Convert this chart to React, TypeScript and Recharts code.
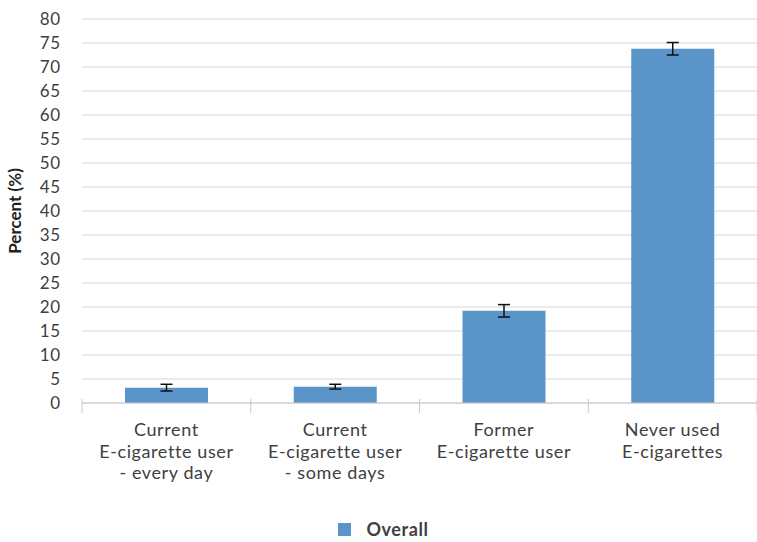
import { BarChart, Bar, XAxis, YAxis, CartesianGrid, Legend, ErrorBar } from 'recharts';

// Share of respondents by e-cigarette use status
const categories = [
  'Current\nE-cigarette user\n- every day',
  'Current\nE-cigarette user\n- some days',
  'Former\nE-cigarette user',
  'Never used\nE-cigarettes',
];
const overall = [3.2, 3.4, 19.2, 73.8];
const overallErr = [0.7, 0.5, 1.3, 1.3];
const yTicks = [0, 5, 10, 15, 20, 25, 30, 35, 40, 45, 50, 55, 60, 65, 70, 75, 80];

const data = categories.map((name, i) => ({ name, overall: overall[i], err: overallErr[i] }));

const FONT = 'Lato, "Open Sans", sans-serif';
const TEXT = '#404040';

const CategoryTick = ({ x, y, payload, index }: any) => {
  const half = payload.offset || 0;
  const lines = String(payload.value).split('\n');
  const axisY = y - 12;
  return (
    <g>
      <line x1={x - half} x2={x - half} y1={axisY} y2={axisY + 14} stroke="#c8c8c8" />
      {index === categories.length - 1 && (
        <line x1={x + half} x2={x + half} y1={axisY} y2={axisY + 14} stroke="#c8c8c8" />
      )}
      <text x={x} y={y + 25} textAnchor="middle" fill={TEXT} fontSize={18} letterSpacing={0.6} fontFamily={FONT}>
        {lines.map((l, i) => (
          <tspan key={i} x={x} dy={i === 0 ? 0 : 21.7}>{l}</tspan>
        ))}
      </text>
    </g>
  );
};

const LegendContent = () => (
  <div style={{ display: 'flex', justifyContent: 'center', alignItems: 'center', fontFamily: FONT, marginTop: 15, marginLeft: 10 }}>
    <span style={{ width: 13, height: 13, background: '#5b94c9', display: 'inline-block', marginRight: 15 }} />
    <span style={{ fontSize: 18, fontWeight: 700, color: TEXT, letterSpacing: 0.6 }}>Overall</span>
  </div>
);

export default function App() {
  return (
    <div style={{ position: 'absolute', left: 0, top: 0, background: '#fff' }}>
      <BarChart
        width={757}
        height={542}
        data={data}
        margin={{ top: 19, right: 0, left: 0, bottom: 2 }}
        barCategoryGap={43}
      >
        <CartesianGrid vertical={false} stroke="#d6d6d6" />
        <XAxis
          dataKey="name"
          interval={0}
          axisLine={{ stroke: '#c8c8c8' }}
          tickLine={false}
          height={100}
          tick={<CategoryTick />}
        />
        <YAxis
          width={82}
          domain={[0, 80]}
          ticks={yTicks}
          interval={0}
          axisLine={false}
          tickLine={false}
          tickMargin={15}
          tick={{ fill: TEXT, fontSize: 17, fontFamily: FONT, letterSpacing: 0.8 }}
          label={{
            value: 'Percent (%)',
            angle: -90,
            position: 'insideLeft',
            dx: 10,
            style: { fill: '#222', fontSize: 17, fontWeight: 700, fontFamily: FONT, textAnchor: 'middle' },
          }}
        />
        <Legend verticalAlign="bottom" height={37} content={<LegendContent />} />
        <Bar dataKey="overall" name="Overall" fill="#5b94c9" isAnimationActive={false}>
          <ErrorBar dataKey="err" width={6} stroke="#111" strokeWidth={1.5} />
        </Bar>
      </BarChart>
    </div>
  );
}
